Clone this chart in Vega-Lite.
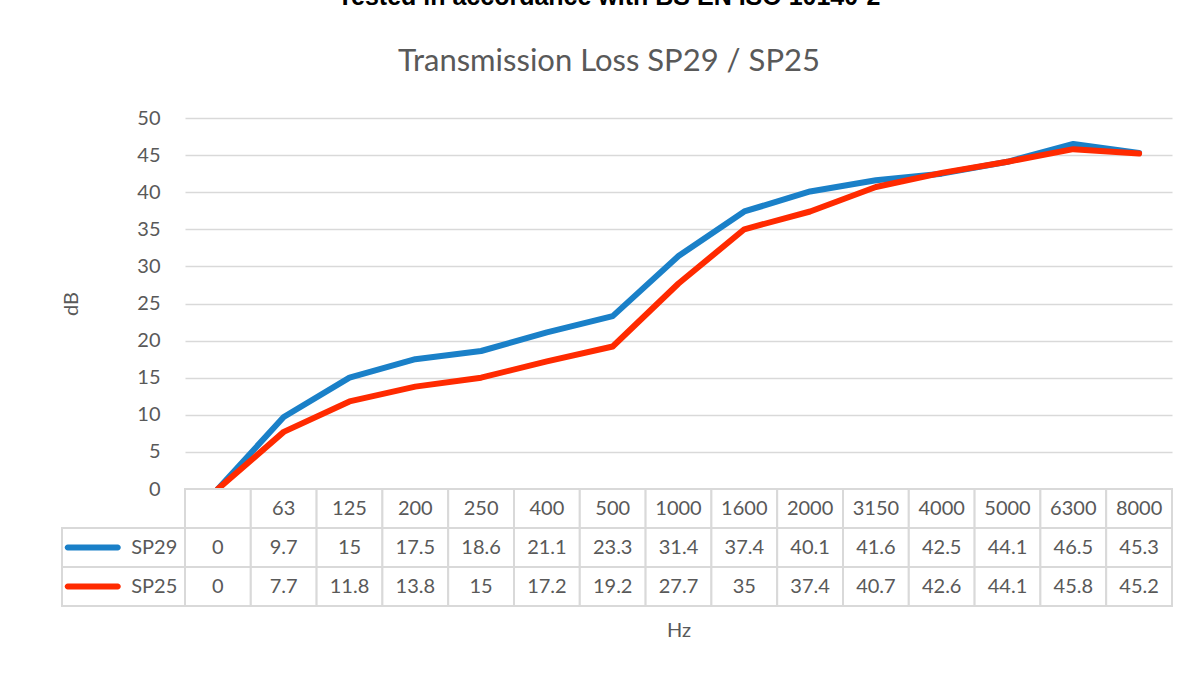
{
  "$schema": "https://vega.github.io/schema/vega-lite/v6.json",
  "background": "white",
  "padding": {"left": 61, "top": -15, "right": 10, "bottom": 10},
  "datasets": {
    "tl": [
      {"freq": " ", "series": "SP29", "db": 0},
      {"freq": "63", "series": "SP29", "db": 9.7},
      {"freq": "125", "series": "SP29", "db": 15},
      {"freq": "200", "series": "SP29", "db": 17.5},
      {"freq": "250", "series": "SP29", "db": 18.6},
      {"freq": "400", "series": "SP29", "db": 21.1},
      {"freq": "500", "series": "SP29", "db": 23.3},
      {"freq": "1000", "series": "SP29", "db": 31.4},
      {"freq": "1600", "series": "SP29", "db": 37.4},
      {"freq": "2000", "series": "SP29", "db": 40.1},
      {"freq": "3150", "series": "SP29", "db": 41.6},
      {"freq": "4000", "series": "SP29", "db": 42.5},
      {"freq": "5000", "series": "SP29", "db": 44.1},
      {"freq": "6300", "series": "SP29", "db": 46.5},
      {"freq": "8000", "series": "SP29", "db": 45.3},
      {"freq": " ", "series": "SP25", "db": 0},
      {"freq": "63", "series": "SP25", "db": 7.7},
      {"freq": "125", "series": "SP25", "db": 11.8},
      {"freq": "200", "series": "SP25", "db": 13.8},
      {"freq": "250", "series": "SP25", "db": 15},
      {"freq": "400", "series": "SP25", "db": 17.2},
      {"freq": "500", "series": "SP25", "db": 19.2},
      {"freq": "1000", "series": "SP25", "db": 27.7},
      {"freq": "1600", "series": "SP25", "db": 35},
      {"freq": "2000", "series": "SP25", "db": 37.4},
      {"freq": "3150", "series": "SP25", "db": 40.7},
      {"freq": "4000", "series": "SP25", "db": 42.6},
      {"freq": "5000", "series": "SP25", "db": 44.1},
      {"freq": "6300", "series": "SP25", "db": 45.8},
      {"freq": "8000", "series": "SP25", "db": 45.2}
    ],
    "series": [{"series": "SP29"}, {"series": "SP25"}]
  },
  "title": {
    "text": "Tested in accordance with BS EN ISO 10140-2",
    "subtitle": "Transmission Loss SP29 / SP25",
    "font": "Liberation Sans",
    "fontSize": 25,
    "fontWeight": "bold",
    "color": "#000000",
    "subtitleFont": "Lato",
    "subtitleFontSize": 31,
    "subtitleColor": "#595959",
    "subtitlePadding": 37,
    "anchor": "middle",
    "dx": -8,
    "offset": 31
  },
  "columns": 2,
  "spacing": 0,
  "bounds": "flush",
  "concat": [
    {
      "width": 123,
      "height": 371,
      "data": {"values": []},
      "mark": "point"
    },
    {
      "width": 987,
      "height": 371,
      "data": {"name": "tl"},
      "encoding": {
        "x": {
          "field": "freq",
          "type": "nominal",
          "scale": {"type": "point", "padding": 0.5, "domain": [" ", "63", "125", "200", "250", "400", "500", "1000", "1600", "2000", "3150", "4000", "5000", "6300", "8000"]},
          "axis": null
        },
        "y": {
          "field": "db",
          "type": "quantitative",
          "scale": {"domain": [0, 50]},
          "axis": {
            "values": [0, 5, 10, 15, 20, 25, 30, 35, 40, 45, 50],
            "title": "dB",
            "grid": true,
            "gridColor": "#d9d9d9",
            "gridWidth": 1.5,
            "domain": false,
            "ticks": false,
            "labelFont": "Lato",
            "labelFontSize": 20,
            "labelColor": "#595959",
            "labelPadding": 25,
            "titleFont": "Lato",
            "titleFontSize": 20,
            "titleFontWeight": "normal",
            "titleColor": "#595959",
            "titlePadding": 55
          }
        },
        "color": {
          "field": "series",
          "type": "nominal",
          "scale": {"domain": ["SP29", "SP25"], "range": ["#1a80c8", "#ff2a00"]},
          "legend": null
        }
      },
      "layer": [
        {
          "transform": [{"filter": "datum.series === 'SP29'"}],
          "mark": {"type": "line", "strokeWidth": 6, "strokeCap": "round", "strokeJoin": "round"}
        },
        {
          "transform": [{"filter": "datum.series === 'SP25'"}],
          "mark": {"type": "line", "strokeWidth": 6, "strokeCap": "round", "strokeJoin": "round"}
        }
      ]
    },
    {
      "width": 123,
      "height": 117,
      "data": {"name": "series"},
      "encoding": {
        "y": {
          "field": "series",
          "type": "nominal",
          "scale": {"domain": ["header", "SP29", "SP25"], "paddingInner": 0, "paddingOuter": 0},
          "axis": null
        }
      },
      "layer": [
        {
          "mark": {"type": "rect", "fill": "white", "stroke": "#d9d9d9", "strokeWidth": 2}
        },
        {
          "mark": {"type": "tick", "orient": "horizontal", "size": 56, "thickness": 6, "cornerRadius": 3, "opacity": 1},
          "encoding": {
            "x": {"datum": "sym", "type": "nominal", "scale": {"domain": ["sym", "label"], "paddingInner": 0, "paddingOuter": 0}, "axis": null},
            "color": {"field": "series", "type": "nominal", "scale": {"domain": ["SP29", "SP25"], "range": ["#1a80c8", "#ff2a00"]}, "legend": null}
          }
        },
        {
          "mark": {"type": "text", "font": "Lato", "fontSize": 20, "color": "#595959"},
          "encoding": {
            "x": {"datum": "label", "type": "nominal", "scale": {"domain": ["sym", "label"], "paddingInner": 0, "paddingOuter": 0}, "axis": null},
            "text": {"field": "series"}
          }
        }
      ]
    },
    {
      "width": 987,
      "height": 117,
      "data": {"name": "tl"},
      "encoding": {
        "x": {
          "field": "freq",
          "type": "nominal",
          "scale": {"domain": [" ", "63", "125", "200", "250", "400", "500", "1000", "1600", "2000", "3150", "4000", "5000", "6300", "8000"], "paddingInner": 0, "paddingOuter": 0},
          "axis": {
            "title": "Hz",
            "labels": false,
            "ticks": false,
            "domain": false,
            "titleFont": "Lato",
            "titleFontSize": 20,
            "titleFontWeight": "normal",
            "titleColor": "#595959",
            "titlePadding": 14
          }
        }
      },
      "layer": [
        {
          "mark": {"type": "rect", "fill": "white", "stroke": "#d9d9d9", "strokeWidth": 2},
          "encoding": {
            "y": {"field": "series", "type": "nominal", "scale": {"domain": ["header", "SP29", "SP25"], "paddingInner": 0, "paddingOuter": 0}, "axis": null}
          }
        },
        {
          "transform": [{"filter": "datum.series === 'SP29'"}],
          "mark": {"type": "rect", "fill": "white", "stroke": "#d9d9d9", "strokeWidth": 2},
          "encoding": {
            "y": {"datum": "header", "type": "nominal", "scale": {"domain": ["header", "SP29", "SP25"], "paddingInner": 0, "paddingOuter": 0}, "axis": null}
          }
        },
        {
          "mark": {"type": "text", "font": "Lato", "fontSize": 20, "color": "#595959"},
          "encoding": {
            "y": {"field": "series", "type": "nominal", "scale": {"domain": ["header", "SP29", "SP25"], "paddingInner": 0, "paddingOuter": 0}, "axis": null},
            "text": {"field": "db", "type": "quantitative"}
          }
        },
        {
          "transform": [{"filter": "datum.series === 'SP29'"}],
          "mark": {"type": "text", "font": "Lato", "fontSize": 20, "color": "#595959"},
          "encoding": {
            "y": {"datum": "header", "type": "nominal", "scale": {"domain": ["header", "SP29", "SP25"], "paddingInner": 0, "paddingOuter": 0}, "axis": null},
            "text": {"field": "freq", "type": "nominal"}
          }
        }
      ]
    }
  ],
  "config": {
    "view": {"stroke": null},
    "font": "Lato"
  }
}
